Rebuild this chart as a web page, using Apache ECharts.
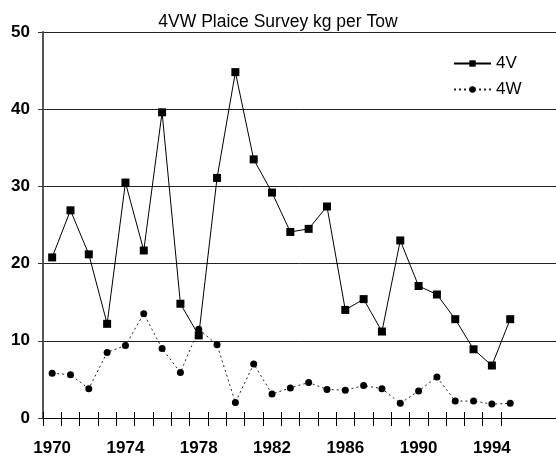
<!DOCTYPE html>
<html>
<head>
<meta charset="utf-8">
<script src="https://cdn.jsdelivr.net/npm/echarts@6/dist/echarts.min.js"></script>
<style>
  html, body { margin: 0; padding: 0; background: #fff; }
  #chart { width: 556px; height: 460px; }
</style>
</head>
<body>
<div id="chart"></div>
<script>
  // years on the axis (two empty slots at the end, the frame runs past 1995)
  const years = ['1970', '1971', '1972', '1973', '1974', '1975', '1976', '1977', '1978', '1979',
    '1980', '1981', '1982', '1983', '1984', '1985', '1986', '1987', '1988', '1989',
    '1990', '1991', '1992', '1993', '1994', '1995', '1996', '1997']

  const v4 = [20.8, 26.9, 21.2, 12.2, 30.5, 21.7, 39.6, 14.8, 10.7, 31.1,
    44.8, 33.5, 29.2, 24.1, 24.5, 27.4, 14.0, 15.4, 11.2, 23.0,
    17.1, 16.0, 12.8, 8.9, 6.8, 12.8]

  const w4 = [5.8, 5.6, 3.8, 8.5, 9.4, 13.5, 9.0, 5.9, 11.5, 9.5,
    2.0, 7.0, 3.1, 3.9, 4.6, 3.7, 3.6, 4.2, 3.8, 1.9,
    3.5, 5.3, 2.2, 2.2, 1.8, 1.9]

  const font = 'Liberation Sans, Arial, sans-serif'
  const tickShown = (idx) => idx <= 25

  const chart = echarts.init(document.getElementById('chart'), null, { renderer: 'canvas' })
  chart.setOption({
    animation: false,
    backgroundColor: '#fff',
    title: {
      text: '4VW Plaice Survey kg per Tow',
      left: 'center',
      top: 8,
      textStyle: { color: '#000', fontFamily: font, fontSize: 17.5, fontWeight: 'normal' }
    },
    legend: {
      orient: 'vertical',
      left: 448,
      top: 50,
      itemWidth: 37,
      itemHeight: 8,
      itemGap: 9,
      textStyle: { color: '#000', fontFamily: font, fontSize: 17 },
      data: ['4V', '4W']
    },
    grid: {
      left: 43,
      top: 32,
      bottom: 42,
      width: 519
    },
    xAxis: [
      {
        type: 'category',
        data: years,
        boundaryGap: true,
        axisLine: { show: true, onZero: false, lineStyle: { color: '#000', width: 1 } },
        axisTick: { show: true, inside: false, length: 8, interval: tickShown, lineStyle: { color: '#000' } },
        axisLabel: {
          interval: 3,
          margin: 22,
          color: '#000',
          fontFamily: font,
          fontSize: 17,
          fontWeight: 'bold'
        },
        splitLine: { show: false }
      },
      {
        type: 'category',
        data: years,
        position: 'bottom',
        offset: 0,
        boundaryGap: true,
        axisLine: { show: false },
        axisTick: { show: true, inside: true, length: 6, interval: tickShown, lineStyle: { color: '#000' } },
        axisLabel: { show: false },
        splitLine: { show: false }
      }
    ],
    yAxis: {
      type: 'value',
      min: 0,
      max: 50,
      interval: 10,
      axisLine: { show: true, lineStyle: { color: '#555', width: 2 } },
      axisTick: { show: true, length: 5, lineStyle: { color: '#333' } },
      axisLabel: {
        margin: 13,
        color: '#000',
        fontFamily: font,
        fontSize: 17,
        fontWeight: 'bold'
      },
      splitLine: { show: true, lineStyle: { color: '#222', width: 1 } }
    },
    series: [
      {
        name: '4V',
        type: 'line',
        data: v4,
        symbol: 'rect',
        symbolSize: 8,
        itemStyle: { color: '#000' },
        lineStyle: { color: '#000', width: 1 }
      },
      {
        name: '4W',
        type: 'line',
        data: w4,
        symbol: 'circle',
        symbolSize: 7,
        itemStyle: { color: '#000' },
        lineStyle: { color: '#222', width: 1, type: [2, 3] }
      }
    ]
  })
</script>
</body>
</html>
